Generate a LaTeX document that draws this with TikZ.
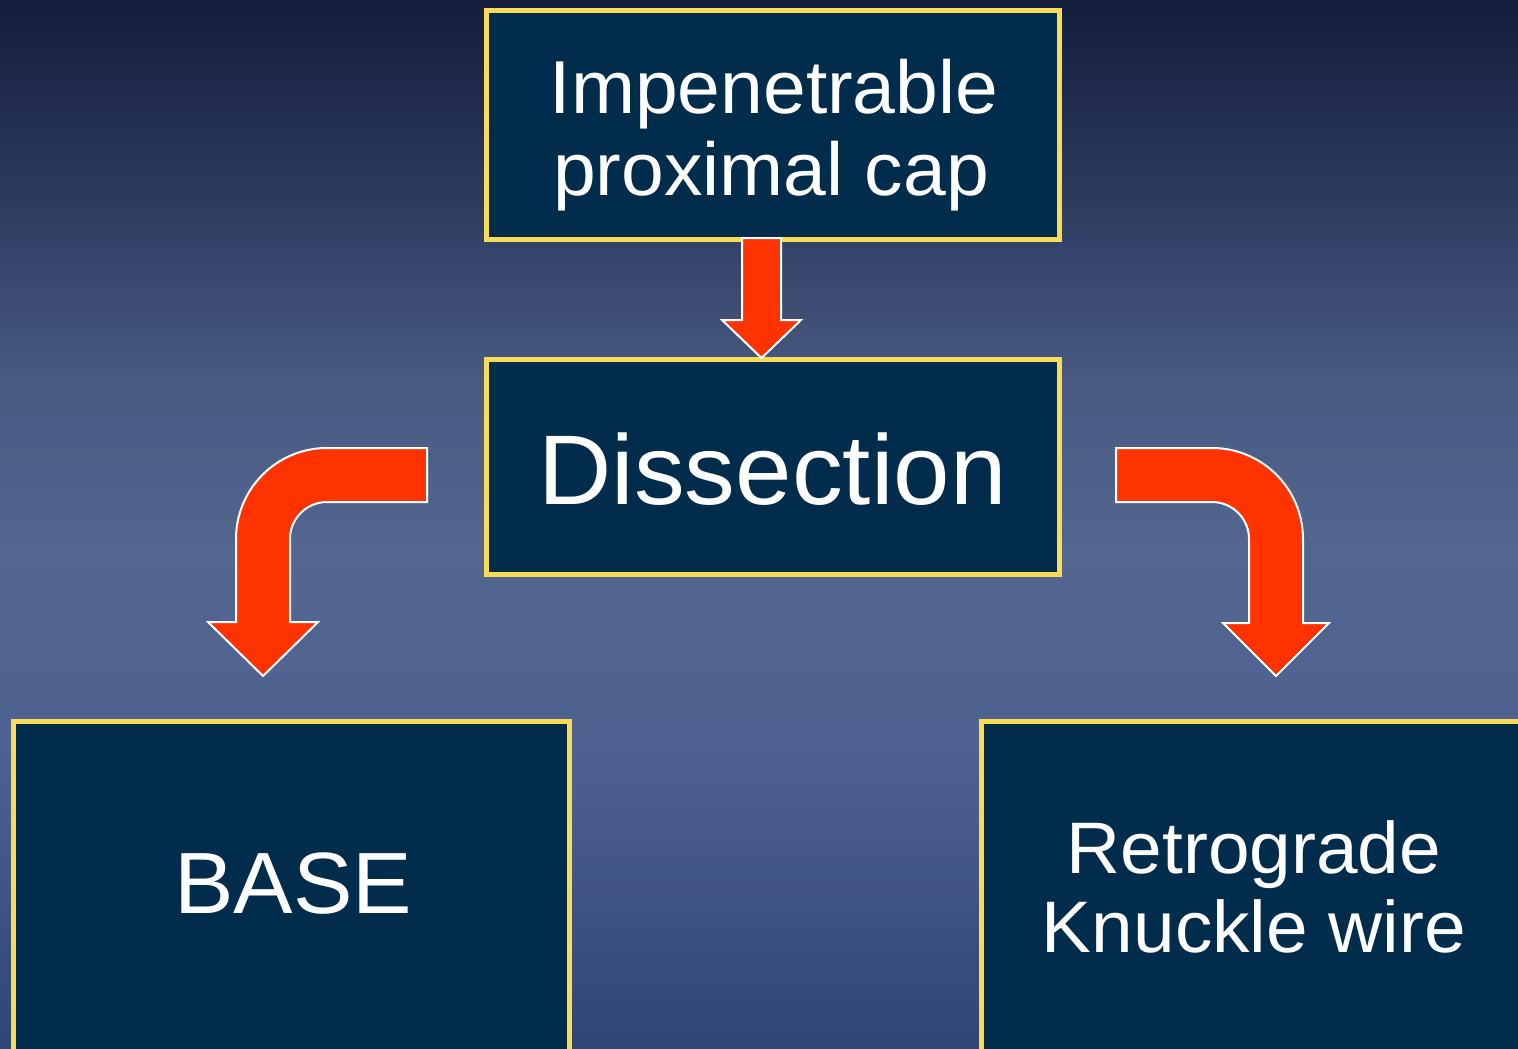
\documentclass[tikz,border=0pt]{standalone}
\usepackage{fontspec}
\setmainfont{Liberation Sans}
\newfontfamily\widesans[FakeStretch=1.025]{Liberation Sans}
\definecolor{bgA}{HTML}{151D3C}
\definecolor{bgB}{HTML}{2D3B60}
\definecolor{bgC}{HTML}{485A82}
\definecolor{bgD}{HTML}{52668F}
\definecolor{bgE}{HTML}{4D6290}
\definecolor{bgF}{HTML}{2F4574}
\definecolor{boxfill}{HTML}{022C4B}
\definecolor{boxline}{HTML}{FADB55}
\definecolor{arrowred}{HTML}{FF3300}
\tikzset{
  box/.style={draw=boxline, line width=5pt, fill=boxfill, inner sep=0pt},
  lbl/.style={text=white, anchor=base, inner sep=0pt},
  blockarrow/.style={fill=arrowred, draw=white, line width=2pt, line join=miter}
}
\begin{document}
\begin{tikzpicture}[x=1pt,y=-1pt]
\useasboundingbox (0,0) rectangle (1518,1049);
\clip (0,0) rectangle (1518,1049);
% background
\shade[top color=bgA, bottom color=bgB] (0,0) rectangle (1518,200.5);
\shade[top color=bgB, bottom color=bgC] (0,200) rectangle (1518,380.5);
\shade[top color=bgC, bottom color=bgD] (0,380) rectangle (1518,550.5);
\shade[top color=bgD, bottom color=bgE] (0,550) rectangle (1518,750.5);
\shade[top color=bgE, bottom color=bgF] (0,750) rectangle (1518,1049);
% boxes
\node[box, minimum width=573pt, minimum height=228pt] (cap) at (772.5,125) {};
\node[box, minimum width=573pt, minimum height=215pt] (dis) at (772.5,466.5) {};
\node[box, minimum width=556pt, minimum height=400pt] (base) at (291,921) {};
\node[box, minimum width=600pt, minimum height=400pt] (retro) at (1281,921) {};
% labels
\node[lbl, font=\widesans\fontsize{75}{80}\selectfont] (t1) at (774,113) {Impenetrable};
\node[lbl, font=\widesans\fontsize{75}{80}\selectfont] (t2) at (771,195) {proximal cap};
\node[lbl, font=\widesans\fontsize{99}{100}\selectfont] (t3) at (772.5,504) {Dissection};
\node[lbl, font=\widesans\fontsize{87}{90}\selectfont] (t4) at (293,913) {BASE};
\node[lbl, font=\widesans\fontsize{73}{80}\selectfont] (t5) at (1254,873) {Retrograde};
\node[lbl, font=\widesans\fontsize{73}{80}\selectfont] (t6) at (1254,952) {Knuckle wire};
% straight arrow
\draw[blockarrow] (742,238) -- (742,320) -- (722,320) -- (761.5,358) -- (801,320) -- (781,320) -- (781,238) -- cycle;
% left bent arrow
\draw[blockarrow] (427,448) -- (327,448) arc[start angle=-90, end angle=-180, radius=91]
  -- (236,622) -- (208,622) -- (263,676) -- (318,622) -- (290,622) -- (290,539)
  arc[start angle=-180, end angle=-90, radius=37] -- (427,502) -- cycle;
% right bent arrow
\draw[blockarrow] (1116,448) -- (1212,448) arc[start angle=-90, end angle=0, radius=91]
  -- (1303,623) -- (1329,623) -- (1276,676) -- (1223,623) -- (1249,623) -- (1249,539)
  arc[start angle=0, end angle=-90, radius=37] -- (1116,502) -- cycle;
\end{tikzpicture}
\end{document}
